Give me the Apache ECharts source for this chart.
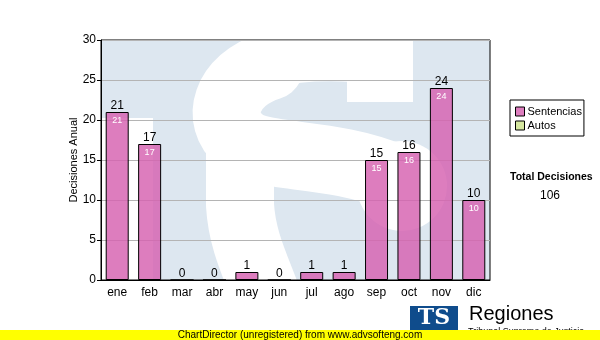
<!DOCTYPE html>
<html><head><meta charset="utf-8">
<script src="https://cdn.jsdelivr.net/npm/echarts@6/dist/echarts.min.js"></script>
<style>html,body{margin:0;padding:0;background:#fff}#c{width:600px;height:340px}</style>
</head><body><div id="c"></div>
<script>
const months = ['ene','feb','mar','abr','may','jun','jul','ago','sep','oct','nov','dic'];
const sentencias = [21,17,0,0,1,0,1,1,15,16,24,10];
const autos = [0,0,0,0,0,0,0,0,0,0,0,0];
const yTicks = [0,5,10,15,20,25,30];
const totalLabel = 'Total Decisiones';
const totalValue = sentencias.reduce((a,b)=>a+b,0) + autos.reduce((a,b)=>a+b,0);

const FONT = 'Liberation Sans, Arial, sans-serif';
function bz(a,b,c,d,w){return {type:'bezierCurve',z:-8,shape:{x1:a[0],y1:a[1],cpx1:b[0],cpy1:b[1],cpx2:c[0],cpy2:c[1],x2:d[0],y2:d[1]},style:{stroke:'#ffffff',lineWidth:w,lineCap:'round',fill:'none'}};}
function ln(a,b,w){return {type:'line',z:-8,shape:{x1:a[0],y1:a[1],x2:b[0],y2:b[1]},style:{stroke:'#ffffff',lineWidth:w,lineCap:'butt'}};}
// decorative watermark (white logo "S" on light-blue plot background)
const sShape = [
  {type:'rect',z:-8,shape:{x:347,y:41,width:66,height:61},style:{fill:'#ffffff'}},
  bz([380,62],[340,58],[300,58],[270,66],44),
  bz([270,66],[225,80],[215,120],[240,140],68),
  bz([240,140],[260,160],[330,150],[395,178],68),
  {type:'circle',z:-8,shape:{cx:402,cy:186,r:45},style:{fill:'#ffffff'}},
  ln([240,138],[240,205],68),
  bz([240,205],[242,240],[255,265],[268,300],68)
];
const chart = echarts.init(document.getElementById('c'), null, {renderer:'canvas'});
chart.setOption({
  animation:false,
  textStyle:{fontFamily:FONT},
  grid:{left:101,right:110,top:40,bottom:60,show:true,borderColor:'#000',borderWidth:1,backgroundColor:'transparent'},
  graphic:[
    {type:'rect',z:-10,shape:{x:101,y:40,width:389,height:240},style:{fill:'#dde7f0'}},
    {type:'rect',z:-9,shape:{x:101,y:118,width:52,height:162},style:{fill:'#ffffff'}}
  ].concat(sShape).concat([
    {type:'rect',z:-7,shape:{x:0,y:281,width:600,height:59},style:{fill:'#ffffff'}},
    {type:'rect',z:-7,shape:{x:0,y:0,width:600,height:39},style:{fill:'#ffffff'}},
    {type:'text',left:510,top:172,style:{text:totalLabel,font:'bold 10.5px '+FONT,fill:'#000'}},
    {type:'text',left:540,top:190,style:{text:String(totalValue),font:'12px '+FONT,fill:'#000'}},
    {type:'rect',z:50,shape:{x:410,y:306,width:48,height:24},style:{fill:'#0f4c8c'}},
    {type:'text',z:51,x:434,y:318,style:{text:'TS',font:'bold 22px "DejaVu Serif"',fill:'#fff',textAlign:'center',textVerticalAlign:'middle'}},
    {type:'text',z:50,left:469,top:304,style:{text:'Regiones',font:'20px '+FONT,fill:'#000'}},
    {type:'text',z:50,left:468,top:327,style:{text:'Tribunal Supremo de Justicia',font:'9px '+FONT,fill:'#000'}},
    {type:'rect',z:60,shape:{x:0,y:330,width:600,height:10},style:{fill:'#ffff00'}},
    {type:'text',z:61,x:300,y:335,style:{text:'ChartDirector (unregistered) from www.advsofteng.com',font:'10px '+FONT,fill:'#000',textAlign:'center',textVerticalAlign:'middle'}}
  ]),
  legend:{
    left:510,top:100,orient:'vertical',padding:[6,2,5,5],itemGap:3,itemWidth:9,itemHeight:9,
    borderColor:'#000',borderWidth:1,icon:'rect',
    itemStyle:{borderColor:'#000',borderWidth:1},
    textStyle:{fontSize:11,color:'#000',fontFamily:FONT,padding:[0,0,0,-2]},
    data:['Sentencias','Autos']
  },
  xAxis:{type:'category',data:months,
    axisLine:{lineStyle:{color:'#000'}},
    axisTick:{alignWithLabel:true,length:3,lineStyle:{color:'#000'}},
    axisLabel:{color:'#000',fontSize:12,margin:7,fontFamily:FONT}},
  yAxis:{type:'value',min:yTicks[0],max:yTicks[yTicks.length-1],interval:5,
    name:'Decisiones Anual',nameLocation:'middle',nameGap:22,nameMoveOverlap:false,
    nameTextStyle:{fontSize:11,color:'#000',fontFamily:FONT},
    axisLine:{show:true,lineStyle:{color:'#000'}},
    axisTick:{show:true,length:4,lineStyle:{color:'#000'}},
    axisLabel:{color:'#000',fontSize:12,margin:5,fontFamily:FONT},
    splitLine:{lineStyle:{color:'#b4b4b4'}}},
  series:[
    {name:'Sentencias',type:'bar',data:sentencias,barWidth:23,barGap:'-100%',
      itemStyle:{color:'rgba(214,96,176,0.82)',borderColor:'#000',borderWidth:1},
      label:{show:true,position:'top',distance:0,color:'#000',fontSize:12,fontFamily:FONT}},
    {name:'Autos',type:'bar',data:autos,barWidth:23,barGap:'-100%',
      itemStyle:{color:'#d6e8a0',borderColor:'#000',borderWidth:0}},
    {name:'SentenciasInner',type:'bar',data:sentencias,barWidth:23,barGap:'-100%',silent:true,
      itemStyle:{color:'rgba(0,0,0,0)'},
      label:{show:true,position:'insideTop',distance:4,color:'#fff',fontSize:9,fontFamily:FONT,
        formatter:p=>p.value>=3?String(p.value):''}}
  ]
});
</script></body></html>
